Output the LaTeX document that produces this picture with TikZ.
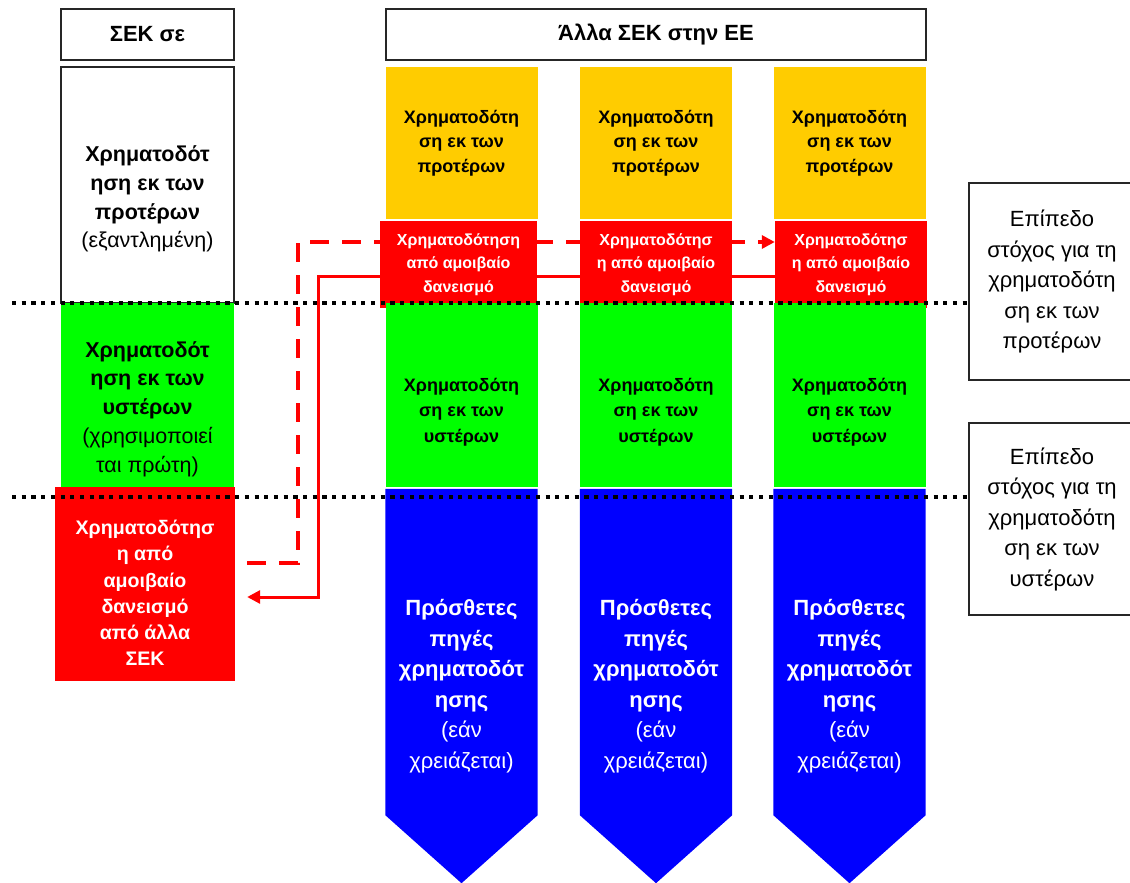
\documentclass[tikz,border=0pt]{standalone}
\usepackage{fontspec}
\setmainfont{Liberation Sans}
\usetikzlibrary{arrows.meta, positioning, backgrounds}

\definecolor{earlyyellow}{HTML}{FFCC00}
\definecolor{lendred}{HTML}{FF0000}
\definecolor{lategreen}{HTML}{00FF00}
\definecolor{extrablue}{HTML}{0000FF}

\begin{document}
\begin{tikzpicture}[
x=1pt, y=-1pt,
header/.style={draw=black!85, line width=1.3pt, inner sep=0pt, minimum height=51pt, font=\fontsize{22}{26}\selectfont\bfseries},
colbox/.style={rectangle, inner sep=0pt, minimum width=152pt, align=center},
earlybox/.style={colbox, fill=earlyyellow, minimum height=152pt, font=\fontsize{18}{24.5}\selectfont\bfseries},
lendbox/.style={colbox, fill=lendred, text=white, minimum height=87pt, font=\fontsize{16}{23.5}\selectfont\bfseries},
latebox/.style={colbox, fill=lategreen, minimum height=184pt},
latetext/.style={align=center, font=\fontsize{18}{25.5}\selectfont\bfseries},
extrabox/.style={colbox, text=white, minimum height=394pt, font=\fontsize{22}{30.5}\selectfont\bfseries},
leftbox/.style={rectangle, inner sep=0pt, minimum width=173pt},
lefttext/.style={align=center, font=\fontsize{21.5}{28.7}\selectfont\bfseries},
targetbox/.style={draw=black!85, line width=1.3pt, rectangle, inner sep=0pt, minimum width=166pt, align=center, font=\fontsize{22}{30.5}\selectfont},
levelline/.style={line width=4pt, dash pattern=on 4.2pt off 5.5pt},
solidlink/.style={draw=lendred, line width=3pt, -{Triangle[length=13pt, width=13pt]}},
dashlink/.style={draw=lendred, line width=3.5pt, dash pattern=on 19pt off 13pt, -{Triangle[length=13pt, width=13pt]}}
]
\useasboundingbox (0,0) rectangle (1130,883);

% ---------- HEADERS ----------

\node[header, minimum width=173pt] (home) at (147.5,34.5) {ΣΕΚ σε};

\node[header, minimum width=540pt] (others) at (656,34.5) {Άλλα ΣΕΚ στην ΕΕ};

% ---------- HOME SCHEME ----------

\node[leftbox, draw=black!85, line width=1.3pt, minimum height=236pt] (homeearly) at (147.5,185) {};
\node[lefttext] (homeearlytxt) at ([yshift=-14pt]homeearly.center)
{Χρηματοδότ\\ ηση εκ των\\ προτέρων\\ \mdseries (εξαντλημένη)};

\node[leftbox, fill=lategreen, minimum height=184pt] (homelate) at (147.5,395) {};
\node[lefttext] (homelatetxt) at ([yshift=-14pt]homelate.center)
{Χρηματοδότ\\ ηση εκ των\\ υστέρων\\ \mdseries (χρησιμοποιεί\\ \mdseries ται πρώτη)};

\node[leftbox, fill=lendred, minimum width=180pt, minimum height=194pt] (homelend) at (145,584) {};
\node[align=center, text=white, font=\fontsize{19.6}{26.3}\selectfont\bfseries] (homelendtxt) at ([yshift=-9pt]homelend.center)
{Χρηματοδότησ\\ η από\\ αμοιβαίο\\ δανεισμό\\ από άλλα\\ ΣΕΚ};

% ---------- OTHER SCHEMES ----------

\node[earlybox] (early1) at (461.5,143) {Χρηματοδότη\\ ση εκ των\\ προτέρων};
\node[earlybox] (early2) at (656,143) {Χρηματοδότη\\ ση εκ των\\ προτέρων};
\node[earlybox] (early3) at (849.5,143) {Χρηματοδότη\\ ση εκ των\\ προτέρων};

\node[lendbox, minimum width=157pt] (lend1) at (458.5,264.5) {Χρηματοδότηση\\ από αμοιβαίο\\ δανεισμό};
\node[lendbox] (lend2) at (656,264.5) {Χρηματοδότησ\\ η από αμοιβαίο\\ δανεισμό};
\node[lendbox] (lend3) at (851,264.5) {Χρηματοδότησ\\ η από αμοιβαίο\\ δανεισμό};

\node[latebox] (late1) at (461.5,395) {};
\node[latebox] (late2) at (656,395) {};
\node[latebox] (late3) at (849.5,395) {};
\node[latetext] (late1txt) at ([yshift=-17pt]late1.center) {Χρηματοδότη\\ ση εκ των\\ υστέρων};
\node[latetext] (late2txt) at ([yshift=-17pt]late2.center) {Χρηματοδότη\\ ση εκ των\\ υστέρων};
\node[latetext] (late3txt) at ([yshift=-17pt]late3.center) {Χρηματοδότη\\ ση εκ των\\ υστέρων};

\node[extrabox] (extra1) at (461.5,686)
{Πρόσθετες\\ πηγές\\ χρηματοδότ\\ ησης\\ \mdseries (εάν\\ \mdseries χρειάζεται)};
\node[extrabox] (extra2) at (656,686)
{Πρόσθετες\\ πηγές\\ χρηματοδότ\\ ησης\\ \mdseries (εάν\\ \mdseries χρειάζεται)};
\node[extrabox] (extra3) at (849.5,686)
{Πρόσθετες\\ πηγές\\ χρηματοδότ\\ ησης\\ \mdseries (εάν\\ \mdseries χρειάζεται)};

% ---------- TARGET LEVELS ----------

\node[targetbox, minimum height=197pt] (target1) at (1052,281.5)
{Επίπεδο\\ στόχος για τη\\ χρηματοδότη\\ ση εκ των\\ προτέρων};

\node[targetbox, minimum height=192pt] (target2) at (1052,519)
{Επίπεδο\\ στόχος για τη\\ χρηματοδότη\\ ση εκ των\\ υστέρων};

% ---------- ARROWS ----------

\begin{scope}[on background layer]
\fill[extrablue] (extra1.north west) -- (extra1.north east) -- ([yshift=68pt]extra1.south east) -- (extra1.south) -- ([yshift=68pt]extra1.south west) -- cycle;
\fill[extrablue] (extra2.north west) -- (extra2.north east) -- ([yshift=68pt]extra2.south east) -- (extra2.south) -- ([yshift=68pt]extra2.south west) -- cycle;
\fill[extrablue] (extra3.north west) -- (extra3.north east) -- ([yshift=68pt]extra3.south east) -- (extra3.south) -- ([yshift=68pt]extra3.south west) -- cycle;

\draw[dashlink] ([xshift=12pt,yshift=21pt]homelend.east) -| (298,242) -- ([yshift=22.5pt]lend3.west);
\draw[solidlink] ([yshift=-11.5pt]lend3.west) -| (318,597) -- ([xshift=12pt,yshift=-13pt]homelend.east);
\end{scope}

\coordinate (level1) at (12,303);
\coordinate (level2) at (12,497);
\draw[levelline] (level1) -- (level1 -| target1.west);
\draw[levelline] (level2) -- (level2 -| target2.west);

\end{tikzpicture}
\end{document}
